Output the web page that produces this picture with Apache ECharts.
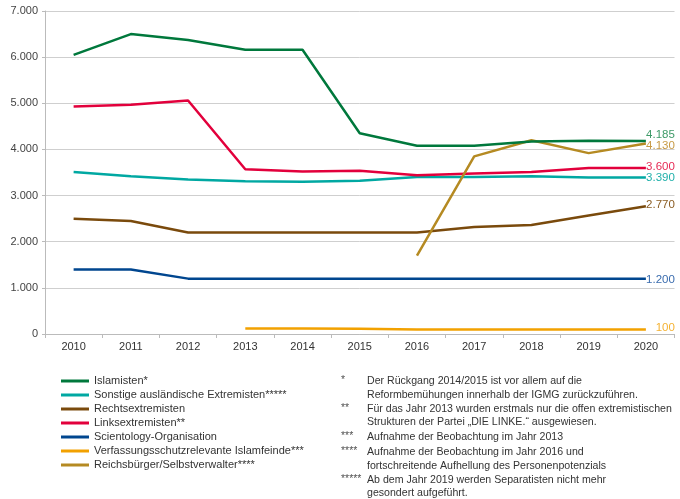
<!DOCTYPE html>
<html><head><meta charset="utf-8">
<script src="https://cdn.jsdelivr.net/npm/echarts@6/dist/echarts.min.js"></script>
<style>html,body{margin:0;padding:0;background:#fff}#c{width:680px;height:499px}</style>
</head><body><div id="c"></div>
<script>
const years = ['2010','2011','2012','2013','2014','2015','2016','2017','2018','2019','2020'];
const islamisten   = [6050, 6500, 6370, 6160, 6160, 4350, 4080, 4080, 4170, 4190, 4185];
const sonstige     = [3510, 3420, 3350, 3310, 3300, 3320, 3400, 3400, 3420, 3390, 3390];
const rechts       = [2500, 2450, 2200, 2200, 2200, 2200, 2200, 2320, 2360, 2570, 2770];
const links        = [4930, 4970, 5060, 3570, 3520, 3540, 3440, 3480, 3510, 3600, 3600];
const scientology  = [1400, 1400, 1200, 1200, 1200, 1200, 1200, 1200, 1200, 1200, 1200];
const islamfeinde  = [null, null, null, 120, 120, 115, 100, 100, 100, 100, 100];
const reichsbuerger= [null, null, null, null, null, null, 1700, 3850, 4200, 3920, 4130];
const yTicks = [0, 1000, 2000, 3000, 4000, 5000, 6000, 7000];

const names = ['Islamisten*','Sonstige ausländische Extremisten*****','Rechtsextremisten','Linksextremisten**','Scientology-Organisation','Verfassungsschutzrelevante Islamfeinde***','Reichsbürger/Selbstverwalter****'];
const colors = ['#00783c','#00a8a2','#7a4a0c','#e2003c','#00468f','#f2a100','#b58a22'];
const labelColors = ['#3e9a68','#1fb0aa','#8a5c22','#e62a55','#3a6cae','#f4b233','#c79a45'];
const offsets = [[0,-6],[0,0],[0,-1],[0,-1],[0,1],[0,-2],[0,2]];
const allData = [islamisten, sonstige, rechts, links, scientology, islamfeinde, reichsbuerger];

function fmt(v){ v=Math.round(v); if(v<1000) return String(v); return Math.floor(v/1000)+'.'+String(v%1000).padStart(3,'0'); }

const series = allData.map((arr,si)=>({
  name: names[si], type:'line', symbol:'none', smooth:false, connectNulls:false,
  lineStyle:{width:2.5,color:colors[si]}, itemStyle:{color:colors[si]},
  endLabel:{show:true, distance:2, offset:offsets[si],
     formatter:(p)=>'{a|'+fmt(p.value)+'}', rich:{a:{width:27, align:'right', color:labelColors[si], fontSize:11.5, fontFamily:'Liberation Sans'}}},
  data: arr,
  z: si===0?5:2
}));

const chart = echarts.init(document.getElementById('c'), null, {renderer:'canvas'});
const foot = [
  ['*', 380, 'Der Rückgang 2014/2015 ist vor allem auf die'],
  ['', 394, 'Reformbemühungen innerhalb der IGMG zurückzuführen.'],
  ['**', 408, 'Für das Jahr 2013 wurden erstmals nur die offen extremistischen'],
  ['', 421, 'Strukturen der Partei „DIE LINKE.“ ausgewiesen.'],
  ['***', 436, 'Aufnahme der Beobachtung im Jahr 2013'],
  ['****', 451, 'Aufnahme der Beobachtung im Jahr 2016 und'],
  ['', 465, 'fortschreitende Aufhellung des Personenpotenzials'],
  ['*****', 479, 'Ab dem Jahr 2019 werden Separatisten nicht mehr'],
  ['', 492, 'gesondert aufgeführt.']
];
const graphic = [];
foot.forEach(f=>{
  if(f[0]) graphic.push({type:'text', left:341, top:f[1]-5, style:{text:f[0], fontSize:10.5, fill:'#555', fontFamily:'Liberation Sans'}});
  graphic.push({type:'text', left:367, top:f[1]-4, style:{text:f[2], fontSize:10.6, fill:'#333', fontFamily:'Liberation Sans'}});
});

chart.setOption({
  animation:false,
  backgroundColor:'#fff',
  textStyle:{fontFamily:'Liberation Sans'},
  grid:{left:45, right:5.5, top:11, bottom:165},
  xAxis:{type:'category', data:years, boundaryGap:true,
    axisLine:{lineStyle:{color:'#bbb'}}, axisTick:{show:true, length:4, lineStyle:{color:'#bbb'}},
    axisLabel:{color:'#333', fontSize:11, margin:7}},
  yAxis:{type:'value', min:yTicks[0], max:yTicks[yTicks.length-1], interval:1000,
    axisLine:{show:true, lineStyle:{color:'#bbb'}}, axisTick:{show:true, length:3, lineStyle:{color:'#bbb'}},
    splitLine:{lineStyle:{color:'#cfcfcf', width:1}},
    axisLabel:{color:'#444', fontSize:11, margin:7, formatter:(v)=>fmt(v)}},
  legend:{orient:'vertical', left:56, top:369, icon:'rect', itemWidth:28, itemHeight:3, itemGap:0, itemTextGap:11,
    textStyle:{fontSize:11, color:'#333', lineHeight:14, fontFamily:'Liberation Sans'},
    data:names.map((n,i)=>({name:n, itemStyle:{color:colors[i]}}))},
  graphic: graphic,
  series: series
});
</script></body></html>
